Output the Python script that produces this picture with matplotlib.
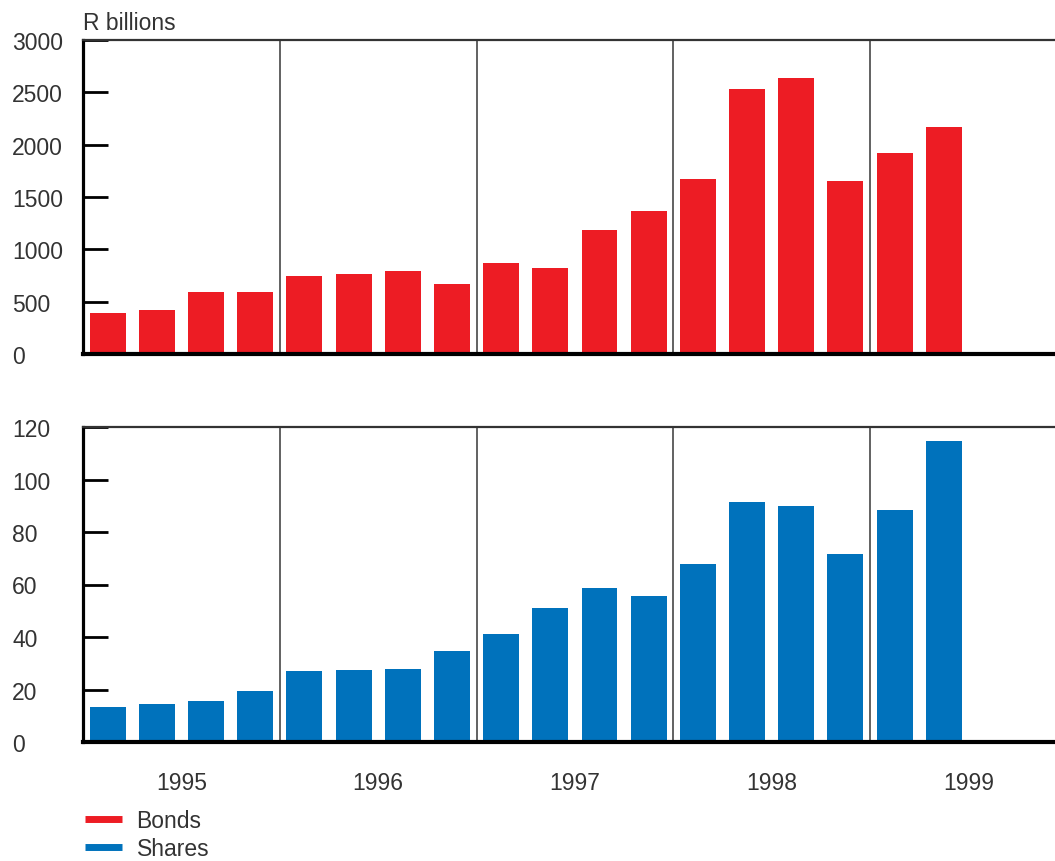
import numpy as np
import matplotlib
matplotlib.use('Agg')
import matplotlib.pyplot as plt
from matplotlib.lines import Line2D

plt.rcParams['font.family'] = ['Liberation Sans', 'DejaVu Sans']

years = ['1995', '1996', '1997', '1998', '1999']
bonds = [392, 420, 593, 593, 750, 769, 797, 673, 874, 826,
         1185, 1365, 1670, 2530, 2635, 1655, 1920, 2170]
shares = [13.4, 14.6, 15.8, 19.5, 27.1, 27.5, 27.9, 34.8, 41.3, 51.2,
          58.8, 55.8, 67.8, 91.4, 89.9, 71.6, 88.4, 114.7]
bond_ticks = [0, 500, 1000, 1500, 2000, 2500, 3000]
share_ticks = [0, 20, 40, 60, 80, 100, 120]

red = '#ED1C24'
blue = '#0072BC'
txt = '#333333'
fs = 16.5

fig = plt.figure(figsize=(10.55, 8.62), dpi=100)
ax1 = fig.add_axes([83 / 1055, 1 - 355 / 862, 1 - 83 / 1055, 314 / 862])
ax2 = fig.add_axes([83 / 1055, 1 - 743 / 862, 1 - 83 / 1055, 315 / 862])


def style(ax, values, ticks, color, show_years):
    x = np.arange(len(values))
    ax.bar(x, values, width=0.73, color=color, zorder=2)
    ax.set_xlim(-0.5, 19.26)
    ax.set_ylim(ticks[0], ticks[-1])
    for b in [3.5, 7.5, 11.5, 15.5]:
        ax.axvline(b, color='#555555', lw=1.3, zorder=1)
    ax.spines['right'].set_visible(False)
    ax.spines['left'].set_linewidth(2.3)
    ax.spines['left'].set_color('black')
    ax.spines['bottom'].set_linewidth(3)
    ax.spines['bottom'].set_color('black')
    ax.spines['top'].set_linewidth(1.6)
    ax.spines['top'].set_color('#333333')
    ax.set_yticks(ticks)
    ax.set_yticklabels([str(t) for t in ticks])
    ax.tick_params(axis='y', direction='in', length=18, width=2, color='black',
                   labelsize=fs, labelcolor=txt, pad=51)
    for lbl in ax.get_yticklabels():
        lbl.set_horizontalalignment('left')
        lbl.set_verticalalignment('center_baseline')
    ax.set_xticks([1.5, 5.5, 9.5, 13.5, 17.5])
    if show_years:
        ax.set_xticklabels(years)
    else:
        ax.set_xticklabels([])
    ax.tick_params(axis='x', length=0, labelsize=fs, labelcolor=txt, pad=21)


style(ax1, bonds, bond_ticks, red, False)
style(ax2, shares, share_ticks, blue, True)

ax1.text(0, 1.02, 'R billions', transform=ax1.transAxes, ha='left', va='bottom',
         fontsize=fs, color=txt)

handles = [Line2D([], [], color=red, lw=5, solid_capstyle='butt'),
           Line2D([], [], color=blue, lw=5, solid_capstyle='butt')]
fig.legend(handles, ['Bonds', 'Shares'], loc='upper left',
           bbox_to_anchor=(85 / 1055, 1 - 810 / 862), frameon=False,
           fontsize=fs, labelcolor=txt, handlelength=1.6, handletextpad=0.65,
           labelspacing=0.2, borderaxespad=0, borderpad=0)

fig.savefig('out.png', dpi=100)
